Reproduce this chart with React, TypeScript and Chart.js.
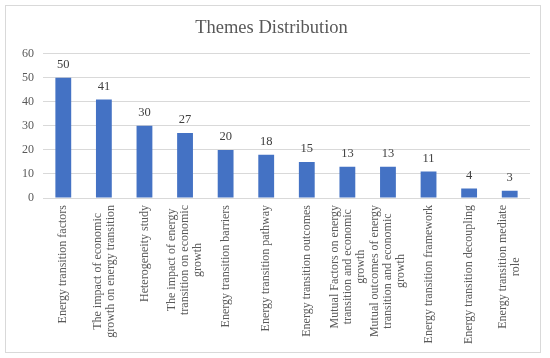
import React, { useEffect, useRef } from "react";
import { Chart, registerables } from "chart.js";

Chart.register(...registerables);

const titleText = "Themes Distribution";
const categories: string[][] = [
  ["Energy transition factors"],
  ["The impact of economic", "growth on energy transition"],
  ["Heterogeneity study"],
  ["The impact of energy", "transition on economic", "growth"],
  ["Energy transition barriers"],
  ["Energy transition pathway"],
  ["Energy transition outcomes"],
  ["Mutual Factors on energy", "transition and economic", "growth"],
  ["Mutual outcomes of energy", "transition and economic", "growth"],
  ["Energy transition framework"],
  ["Energy transition decoupling"],
  ["Energy transition mediate", "role"],
];
const values: number[] = [50, 41, 30, 27, 20, 18, 15, 13, 13, 11, 4, 3];
const yMin = 0;
const yMax = 60;
const yStep = 10;

const FONT = '"Liberation Serif", "Times New Roman", serif';
const TEXT = "#595959";
const LINE_H = 13;

const xLabelPlugin = {
  id: "xLabels",
  afterDraw(chart: any) {
    const ctx = chart.ctx as CanvasRenderingContext2D;
    const xs = chart.scales.x;
    const top = chart.chartArea.bottom + 7;
    ctx.save();
    ctx.font = `12px ${FONT}`;
    ctx.fillStyle = TEXT;
    ctx.textAlign = "center";
    ctx.textBaseline = "middle";
    categories.forEach((lines, i) => {
      const x = xs.getPixelForTick(i);
      const w = Math.max(...lines.map((l) => ctx.measureText(l).width));
      lines.forEach((l, j) => {
        ctx.save();
        ctx.translate(x + (j - (lines.length - 1) / 2) * LINE_H, top + w / 2);
        ctx.rotate(-Math.PI / 2);
        ctx.fillText(l, 0, 0);
        ctx.restore();
      });
    });
    ctx.restore();
  },
};

const dataLabelPlugin = {
  id: "dataLabels",
  afterDatasetsDraw(chart: any) {
    const ctx = chart.ctx as CanvasRenderingContext2D;
    const meta = chart.getDatasetMeta(0);
    ctx.save();
    ctx.font = `12.5px ${FONT}`;
    ctx.fillStyle = "#404040";
    ctx.textAlign = "center";
    ctx.textBaseline = "middle";
    meta.data.forEach((bar: any, i: number) => {
      ctx.fillText(String(values[i]), bar.x, bar.y - 13);
    });
    ctx.restore();
  },
};

export default function App() {
  const ref = useRef<HTMLCanvasElement | null>(null);
  useEffect(() => {
    if (!ref.current) return;
    const chart = new Chart(ref.current, {
      type: "bar",
      data: {
        labels: categories.map((c) => c.join(" ")),
        datasets: [
          {
            data: values,
            backgroundColor: "#4472C4",
            barPercentage: 0.39,
            categoryPercentage: 1,
          },
        ],
      },
      options: {
        animation: false,
        responsive: false,
        maintainAspectRatio: false,
        layout: { padding: { left: 7, right: 10, top: 0, bottom: 146 } },
        plugins: {
          legend: { display: false },
          tooltip: { enabled: false },
          title: {
            display: true,
            text: titleText,
            color: TEXT,
            font: { family: FONT, size: 18.5, weight: "normal" },
            padding: { top: 11, bottom: 14.5 },
          },
        },
        scales: {
          x: {
            ticks: { display: false },
            grid: { display: false },
            border: { display: false },
          },
          y: {
            min: yMin,
            max: yMax,
            ticks: {
              stepSize: yStep,
              color: TEXT,
              font: { family: FONT, size: 12 },
              padding: 9,
            },
            grid: { color: "#d9d9d9", drawTicks: false },
            border: { display: false },
          },
        },
      },
      plugins: [xLabelPlugin, dataLabelPlugin],
    });
    return () => chart.destroy();
  }, []);
  return (
    <div style={{ position: "fixed", left: 0, top: 0, width: 550, height: 358, background: "#fff" }}>
      <div
        style={{
          position: "absolute",
          left: 5,
          top: 5,
          width: 536,
          height: 348,
          border: "1px solid #d9d9d9",
          boxSizing: "border-box",
        }}
      >
        <canvas ref={ref} width={534} height={346} style={{ display: "block" }} />
      </div>
    </div>
  );
}
